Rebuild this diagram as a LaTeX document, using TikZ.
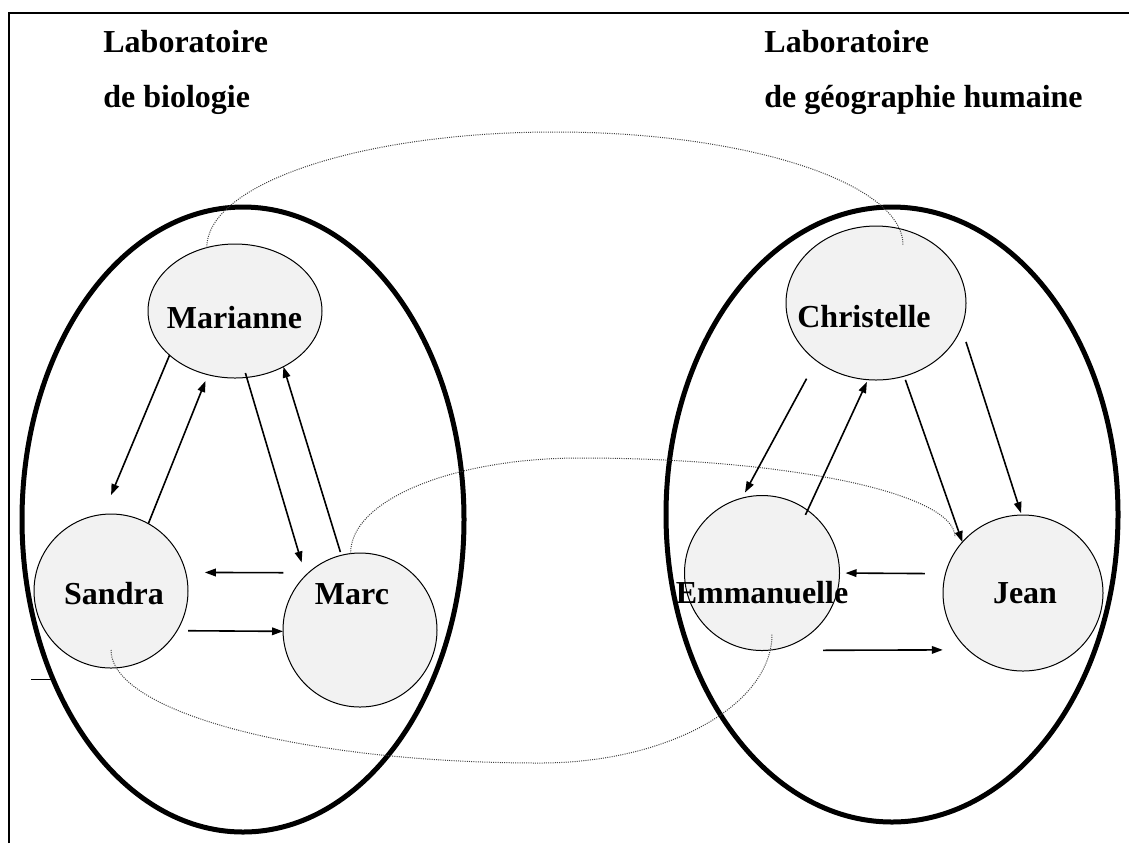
\documentclass[tikz,border=0pt]{standalone}
\usepackage{fontspec}
\setmainfont{Liberation Serif}
\usetikzlibrary{shapes.geometric,arrows.meta,calc}
\definecolor{nodegray}{HTML}{F2F2F2}
\begin{document}
\begin{tikzpicture}[x=0.5pt,y=-0.5pt,
  every node/.style={font=\fontsize{16}{19}\selectfont\bfseries},
  labbox/.style={draw, ellipse, line width=2.5pt, inner sep=0pt, outer sep=0pt},
  person/.style={draw, ellipse, fill=nodegray, line width=0.5pt, inner sep=0pt, outer sep=0pt},
  nametext/.style={anchor=base, inner sep=0pt},
  titletext/.style={anchor=base west, inner sep=0pt},
  link/.style={-{Triangle[length=5.5pt,width=3.8pt]}, line width=0.8pt},
  tie/.style={line width=0.5pt, black!75, dash pattern=on 0.5pt off 0.6pt},
  framestyle/.style={line width=1pt}
]
\useasboundingbox (0,0) rectangle (1129,843);
% frame
\draw[framestyle] (9,843) -- (9,13) -- (1129,13);
\draw[line width=0.5pt] (31,679) -- (52,679);

% titles
\node[titletext] (t1a) at (103,52) {Laboratoire};
\node[titletext] (t1b) at (103,107) {de biologie};
\node[titletext] (t2a) at (764,52) {Laboratoire};
\node[titletext] (t2b) at (764,107) {de géographie humaine};

% laboratories
\node[labbox, minimum width=221pt, minimum height=312.5pt] (labA) at (243,519.5) {};
\node[labbox, minimum width=226pt, minimum height=307.5pt] (labB) at (892,514.5) {};

% persons
\node[person, minimum width=87pt, minimum height=67pt] (mar) at (235,311) {};
\node[person, minimum width=90pt, minimum height=77pt] (chr) at (876,303) {};
\node[person, minimum width=77pt, minimum height=77pt] (san) at (111,591) {};
\node[person, minimum width=77pt, minimum height=77pt] (marc) at (360,630) {};
\node[person, minimum width=77.5pt, minimum height=77.5pt] (emm) at (762,573) {};
\node[person, minimum width=80pt, minimum height=78pt] (jean) at (1023,593) {};

% dotted ties between laboratories
\draw[tie] (mar.114) .. controls (207,183) and (363,132) .. (555,132)
  .. controls (747,132) and (903,183) .. ($(chr.center)+(27,-58)$);
\draw[tie] (marc.97) .. controls (350,500) and (453,458) .. (580,458)
  .. controls (787,458) and (955,493) .. ($(jean.center)+(-68,-56)$);
\draw[tie] ($(san.center)+(0,59)$) .. controls (111,712) and (303,763) .. (540,763)
  .. controls (668,763) and (772,705) .. ($(emm.center)+(10,61)$);

% arrows, biology lab
\draw[link, shorten >=10.5pt] (mar.214) -- (san.96);
\draw[link, shorten >=3.4pt] (san.61) -- (mar.247);
\draw[link, shorten <=-2.3pt, shorten >=6.85pt] (mar.280) -- (marc.135);
\draw[link, shorten <=1.7pt] (marc.104) -- (mar.311);
\draw[link, shorten <=12.6pt, shorten >=9.55pt] (marc.132) -- (san.14);
\draw[link, shorten <=5.6pt] (san.329) -- (marc.181);

% arrows, geography lab
\draw[link, shorten <=10.25pt, shorten >=3.2pt] (chr.224) -- (emm.105);
\draw[link, shorten <=-2.5pt, shorten >=1.25pt] (emm.54) -- (chr.264);
\draw[link, shorten <=1.95pt] (chr.291) -- (jean.140);
\draw[link, shorten <=7.6pt, shorten >=1pt] (chr.344) -- (jean.91);
\draw[link, shorten <=10.35pt, shorten >=3pt] (jean.166) -- (emm.0);
\draw[link, shorten <=30.5pt, shorten >=12.7pt] (emm.270) -- (jean.226);

% names
\node[nametext] (marT) at (234.5,328) {Marianne};
\node[nametext] (chrT) at (864,327) {Christelle};
\node[nametext] (sanT) at (114,604) {Sandra};
\node[nametext] (marcT) at (352,604) {Marc};
\node[nametext] (emmT) at (762,603) {Emmanuelle};
\node[nametext] (jeanT) at (1025,603) {Jean};
\end{tikzpicture}
\end{document}
